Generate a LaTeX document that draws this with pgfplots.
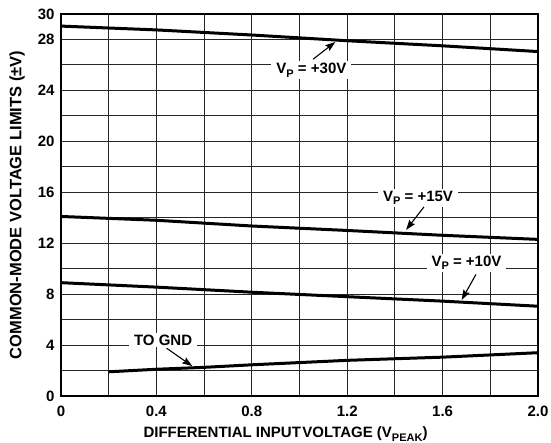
\documentclass[border=0pt]{standalone}
\usepackage{pgfplots}
\pgfplotsset{compat=1.18}
\usetikzlibrary{arrows.meta}
\usepackage{fontspec}
\setmainfont{Liberation Sans}[UprightFont={Liberation Sans Bold}, BoldFont={Liberation Sans Bold}]
\newcommand{\sub}[1]{\raisebox{-0.45ex}{\fontsize{11}{12}\selectfont #1}}
\newcommand{\fnt}{\fontsize{15}{17}\selectfont}
\begin{document}
\begin{tikzpicture}
\useasboundingbox (-61pt,-47pt) rectangle (490pt,396pt);
\begin{axis}[
  at={(0,0)}, anchor=south west,
  scale only axis,
  width=477pt, height=382pt,
  xmin=0, xmax=2.0, ymin=0, ymax=30,
  xtick={0,0.4,0.8,1.2,1.6,2.0},
  xticklabels={0,0.4,0.8,1.2,1.6,2.0},
  minor xtick={0.2,0.6,1.0,1.4,1.8},
  ytick={0,4,8,12,16,20,24,28,30},
  minor ytick={2,6,10,14,18,22,26},
  grid=both,
  major grid style={black!85, line width=0.9pt},
  minor grid style={black!85, line width=0.9pt},
  tick style={draw=none},
  axis line style={black, line width=1.5pt},
  /pgf/number format/assume math mode=true,
  ticklabel style={font=\fnt},
  xticklabel style={yshift=-6pt},
  yticklabel style={xshift=-3pt},
  label style={font=\fnt},
  xlabel={DIFFERENTIAL INPUT\hspace{0.1em}VOLTAGE (V\sub{PEAK})},
  ylabel={\fontsize{16.5}{18}\selectfont COMMON-MODE VOLTAGE LIMITS (±V)},
  xlabel style={yshift=-4pt, xshift=-14pt},
  ylabel style={yshift=6pt},
  curve/.style={black, line width=3pt, no marks},
]
\addplot[curve] coordinates {(0,29.05) (0.4,28.75) (0.8,28.35) (1.2,27.9) (1.6,27.5) (2.0,27.05)};
\addplot[curve] coordinates {(0,14.1) (0.4,13.8) (0.8,13.35) (1.2,13.0) (1.6,12.62) (2.0,12.3)};
\addplot[curve] coordinates {(0,8.9) (0.4,8.55) (0.8,8.15) (1.2,7.8) (1.6,7.45) (2.0,7.05)};
\addplot[curve] coordinates {(0.2,1.9) (0.4,2.1) (0.6,2.25) (0.8,2.45) (1.2,2.8) (1.6,3.05) (2.0,3.4)};

\tikzset{lbl/.style={fill=white, inner xsep=5pt, inner ysep=2pt, font=\fnt},
         arr/.style={-{Stealth[length=10pt,width=7pt,inset=1.5pt]}, line width=1.1pt, black}}
\node[lbl] at (axis cs:1.05,25.6) {V\sub{P} = +30V};
\draw[arr] (axis cs:1.057,26.45) -- (axis cs:1.15,27.8);
\node[lbl] at (axis cs:1.497,15.55) {V\sub{P} = +15V};
\draw[arr] (axis cs:1.522,14.85) -- (axis cs:1.447,13.05);
\node[lbl] at (axis cs:1.70,10.45) {V\sub{P} = +10V};
\draw[arr] (axis cs:1.74,9.55) -- (axis cs:1.68,7.55);
\node[lbl] at (axis cs:0.428,4.4) {TO GND};
\draw[arr] (axis cs:0.443,3.75) -- (axis cs:0.55,2.35);
\end{axis}
\end{tikzpicture}
\end{document}
